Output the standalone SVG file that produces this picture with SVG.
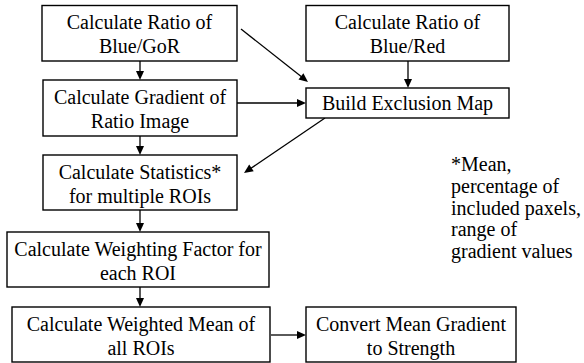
<svg xmlns="http://www.w3.org/2000/svg" width="584" height="363" viewBox="0 0 584 363">
<g id="connectors" stroke="#000" stroke-width="1.3" fill="#000">
<line x1="140" y1="61" x2="140" y2="72"/><polygon stroke="none" points="140,80 136,71 144,71"/>
<line x1="140" y1="136" x2="140" y2="147"/><polygon stroke="none" points="140,155 136,146 144,146"/>
<line x1="140" y1="210" x2="140" y2="224"/><polygon stroke="none" points="140,232 136,223 144,223"/>
<line x1="140" y1="287" x2="140" y2="299"/><polygon stroke="none" points="140,307 136,298 144,298"/>
<line x1="271" y1="335" x2="298" y2="335"/><polygon stroke="none" points="306,335 297,331 297,339"/>
<line x1="408" y1="61" x2="408" y2="80"/><polygon stroke="none" points="408,88 404,79 412,79"/>
<line x1="237" y1="103" x2="298" y2="103"/><polygon stroke="none" points="306,103 297,99 297,107"/>
<line x1="241" y1="29" x2="301.5" y2="76.8"/><polygon stroke="none" points="308,82 298.5,79.6 303.4,73.3"/>
<line x1="325" y1="118" x2="251" y2="168.3"/><polygon stroke="none" points="244,173 249.2,164.6 253.7,171.3"/>
</g>
<g id="n1"><rect x="42" y="5.5" width="195" height="55.5" fill="#fff" stroke="#000" stroke-width="1.4"/><text font-family="Liberation Serif" font-size="20" text-anchor="middle" x="139.5" y="29">Calculate Ratio of</text><text font-family="Liberation Serif" font-size="20" text-anchor="middle" x="139.5" y="53">Blue/GoR</text></g>
<g id="n2"><rect x="43" y="80" width="194" height="56" fill="#fff" stroke="#000" stroke-width="1.4"/><text font-family="Liberation Serif" font-size="20" text-anchor="middle" x="140" y="104">Calculate Gradient of</text><text font-family="Liberation Serif" font-size="20" text-anchor="middle" x="140" y="128">Ratio Image</text></g>
<g id="n3"><rect x="43" y="155" width="194" height="55" fill="#fff" stroke="#000" stroke-width="1.4"/><text font-family="Liberation Serif" font-size="20" text-anchor="middle" x="140" y="179">Calculate Statistics*</text><text font-family="Liberation Serif" font-size="20" text-anchor="middle" x="140" y="203">for multiple ROIs</text></g>
<g id="n4"><rect x="7" y="232" width="262" height="55" fill="#fff" stroke="#000" stroke-width="1.4"/><text font-family="Liberation Serif" font-size="20" text-anchor="middle" x="138" y="256">Calculate Weighting Factor for</text><text font-family="Liberation Serif" font-size="20" text-anchor="middle" x="138" y="280">each ROI</text></g>
<g id="n5"><rect x="12" y="307" width="258" height="55" fill="#fff" stroke="#000" stroke-width="1.4"/><text font-family="Liberation Serif" font-size="20" text-anchor="middle" x="141" y="331">Calculate Weighted Mean of</text><text font-family="Liberation Serif" font-size="20" text-anchor="middle" x="141" y="355">all ROIs</text></g>
<g id="n6"><rect x="306" y="307" width="210" height="55" fill="#fff" stroke="#000" stroke-width="1.4"/><text font-family="Liberation Serif" font-size="20" text-anchor="middle" x="411" y="331">Convert Mean Gradient</text><text font-family="Liberation Serif" font-size="20" text-anchor="middle" x="411" y="355">to Strength</text></g>
<g id="n7"><rect x="306" y="5.5" width="203" height="55.5" fill="#fff" stroke="#000" stroke-width="1.4"/><text font-family="Liberation Serif" font-size="20" text-anchor="middle" x="407.5" y="29">Calculate Ratio of</text><text font-family="Liberation Serif" font-size="20" text-anchor="middle" x="407.5" y="53">Blue/Red</text></g>
<g id="n8"><rect x="306" y="88" width="203" height="30" fill="#fff" stroke="#000" stroke-width="1.4"/><text font-family="Liberation Serif" font-size="20" text-anchor="middle" x="407.5" y="110">Build Exclusion Map</text></g>
<g id="note"><text font-family="Liberation Serif" font-size="20" x="451" y="171">*Mean,</text><text font-family="Liberation Serif" font-size="20" x="451" y="193">percentage of</text><text font-family="Liberation Serif" font-size="20" x="451" y="214.5">included paxels,</text><text font-family="Liberation Serif" font-size="20" x="451" y="236">range of</text><text font-family="Liberation Serif" font-size="20" x="451" y="257.5">gradient values</text></g>
</svg>
